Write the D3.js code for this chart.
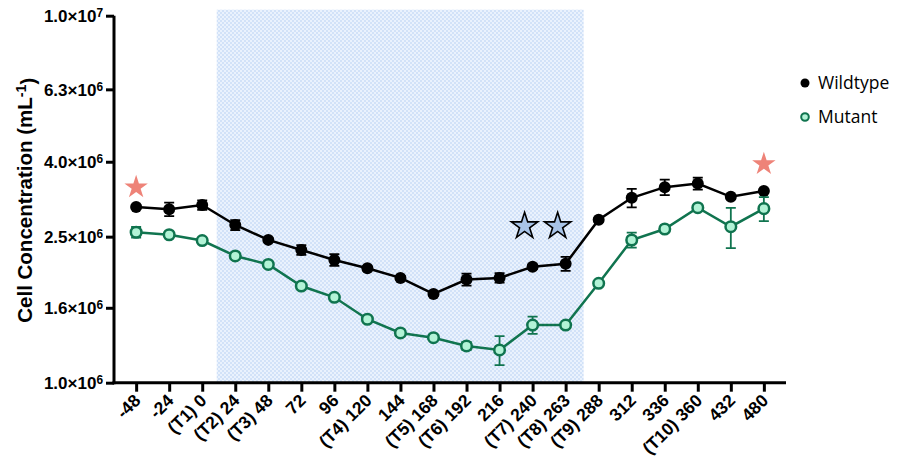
<!DOCTYPE html>
<html>
<head>
<meta charset="utf-8">
<script src="https://cdn.jsdelivr.net/npm/d3@7"></script>
<style>
  html, body { margin: 0; padding: 0; background: #fff; }
  svg { display: block; }
</style>
</head>
<body>
<svg id="chart" width="897" height="466"></svg>
<script>
// Sampling times (h) with treatment labels
const categories = ["-48", "-24", "(T1) 0", "(T2) 24", "(T3) 48", "72", "96", "(T4) 120", "144",
  "(T5) 168", "(T6) 192", "216", "(T7) 240", "(T8) 263", "(T9) 288", "312", "336", "(T10) 360", "432", "480"];

// Mean cell concentration (x10^6 per mL) and error (x10^6 per mL)
const wildtype = [3.01, 2.97, 3.05, 2.69, 2.45, 2.30, 2.16, 2.05, 1.93, 1.745,
  1.91, 1.93, 2.07, 2.11, 2.78, 3.19, 3.41, 3.49, 3.21, 3.33];
const wildtypeErr = [0.04, 0.125, 0.09, 0.084, 0.03, 0.07, 0.08, 0.026, 0.024, 0.022,
  0.072, 0.057, 0.032, 0.093, 0.035, 0.186, 0.165, 0.13, 0.04, 0.04];

const mutant = [2.57, 2.53, 2.44, 2.215, 2.10, 1.834, 1.709, 1.489, 1.366, 1.326,
  1.259, 1.228, 1.436, 1.436, 1.866, 2.448, 2.623, 2.998, 2.661, 2.98];
const mutantErr = [0.086, 0.03, 0.03, 0.028, 0.02, 0.02, 0.02, 0.02, 0.02, 0.02,
  0.032, 0.112, 0.078, 0.018, 0.023, 0.115, 0.033, 0.038, 0.334, 0.224];

const yTicks = [1.0e6, 1.6e6, 2.5e6, 4.0e6, 6.3e6, 1.0e7];

// Treatment window and significance markers
const shadeFrom = "(T1) 0", shadeTo = "(T9) 288";
const redStars = [{ cat: "-48", value: 3.41 }, { cat: "480", value: 3.94 }];
const blueStars = [{ cat: "(T7) 240", value: 2.67 }, { cat: "(T8) 263", value: 2.67 }];

const svg = d3.select("#chart");
const FONT = "Arial, Helvetica, 'Liberation Sans', sans-serif";

const plotLeft = 114, plotRight = 786, plotTop = 15.7, plotBottom = 382.7;

const x = d3.scalePoint().domain(categories).range([plotLeft, plotRight]).padding(0.67);
const y = d3.scaleLog().domain([1e6, 1e7]).range([plotBottom, plotTop]);
const step = x.step();

// Checkered light-blue fill for the treatment window
const defs = svg.append("defs");
const pat = defs.append("pattern").attr("id", "checks")
  .attr("width", 4).attr("height", 4).attr("patternUnits", "userSpaceOnUse");
pat.append("rect").attr("width", 4).attr("height", 4).attr("fill", "#eaf2fd");
pat.append("rect").attr("width", 2).attr("height", 2).attr("fill", "#d2e2f8");
pat.append("rect").attr("x", 2).attr("y", 2).attr("width", 2).attr("height", 2).attr("fill", "#d2e2f8");

const x0 = x(shadeFrom) + step / 2 - 2, x1 = x(shadeTo) - step / 2 + 1.5;
svg.append("rect")
  .attr("x", x0).attr("y", plotTop - 6)
  .attr("width", x1 - x0).attr("height", plotBottom - plotTop + 6)
  .attr("fill", "url(#checks)");

// Superscript helper for "a×10^b" style labels
function sciLabel(sel, v) {
  const exp = Math.floor(Math.log10(v) + 1e-9);
  const mant = v / Math.pow(10, exp);
  sel.text(null);
  sel.append("tspan").text(mant.toFixed(1) + "\u00d710");
  sel.append("tspan").attr("dy", "-0.45em").attr("font-size", "0.7em").text(exp);
}

// Y axis
const yAxis = svg.append("g").attr("transform", `translate(${plotLeft},0)`)
  .call(d3.axisLeft(y).tickValues(yTicks).tickSize(8).tickSizeOuter(0).tickPadding(3));
yAxis.select(".domain").attr("stroke", "#000").attr("stroke-width", 3)
  .attr("d", `M0,${plotTop}V${plotBottom + 1.5}`);
yAxis.selectAll(".tick line").attr("stroke", "#000").attr("stroke-width", 3);
yAxis.selectAll(".tick text")
  .attr("font-family", FONT).attr("font-weight", "bold").attr("font-size", 17)
  .attr("fill", "#000").attr("dy", "0.36em")
  .each(function (d) { sciLabel(d3.select(this), d); });

// X axis
const xAxis = svg.append("g").attr("transform", `translate(0,${plotBottom})`)
  .call(d3.axisBottom(x).tickSize(9).tickSizeOuter(0));
xAxis.select(".domain").attr("stroke", "#000").attr("stroke-width", 3)
  .attr("d", `M${plotLeft - 1.5},0H${plotRight}`);
xAxis.selectAll(".tick line").attr("stroke", "#000").attr("stroke-width", 3);
xAxis.selectAll(".tick text")
  .attr("font-family", FONT).attr("font-weight", "bold").attr("font-size", 17.5)
  .attr("fill", "#000")
  .attr("text-anchor", "end")
  .attr("x", 0).attr("y", 0).attr("dy", 0)
  .attr("transform", "translate(5,19) rotate(-45)");

// Y axis title
const title = svg.append("text")
  .attr("transform", `translate(32,${(plotTop + plotBottom) / 2 + 1}) rotate(-90)`)
  .attr("text-anchor", "middle")
  .attr("font-family", FONT).attr("font-weight", "bold").attr("font-size", 20.5)
  .attr("fill", "#000");
title.append("tspan").text("Cell Concentration (mL");
title.append("tspan").attr("dy", "-0.45em").attr("font-size", "0.7em").text("-1");
title.append("tspan").attr("dy", "0.45em").text(")");

// Series
const series = [
  { name: "Wildtype", values: wildtype, err: wildtypeErr, line: "#000", fill: "#000", stroke: "#000" },
  { name: "Mutant", values: mutant, err: mutantErr, line: "#10744f", fill: "#b2f3d6", stroke: "#10744f" }
];

const line = d3.line().x((d, i) => x(categories[i])).y(d => y(d * 1e6));

series.forEach(s => {
  const g = svg.append("g");
  // error bars
  s.values.forEach((v, i) => {
    const cx = x(categories[i]);
    const lo = y((v - s.err[i]) * 1e6), hi = y((v + s.err[i]) * 1e6);
    g.append("path")
      .attr("d", `M${cx},${lo}V${hi}M${cx - 5},${lo}H${cx + 5}M${cx - 5},${hi}H${cx + 5}`)
      .attr("stroke", s.line).attr("stroke-width", 1.8).attr("fill", "none");
  });
  g.append("path").datum(s.values)
    .attr("d", line).attr("fill", "none")
    .attr("stroke", s.line).attr("stroke-width", 2.5);
  g.selectAll("circle").data(s.values).join("circle")
    .attr("cx", (d, i) => x(categories[i])).attr("cy", d => y(d * 1e6))
    .attr("r", s.name === "Wildtype" ? 6 : 5.3)
    .attr("fill", s.fill).attr("stroke", s.stroke)
    .attr("stroke-width", s.name === "Wildtype" ? 0 : 2.5);
});

// Significance stars
const star = d3.symbol().type(d3.symbolStar);
svg.selectAll(".redstar").data(redStars).join("path")
  .attr("class", "redstar")
  .attr("d", star.size(170)())
  .attr("transform", d => `translate(${x(d.cat)},${y(d.value * 1e6)})`)
  .attr("fill", "#ee8378");
svg.selectAll(".bluestar").data(blueStars).join("path")
  .attr("class", "bluestar")
  .attr("d", star.size(215)())
  .attr("transform", d => `translate(${x(d.cat) - 8},${y(d.value * 1e6)})`)
  .attr("fill", "#a8c4e8").attr("stroke", "#000").attr("stroke-width", 1.6);

// Legend
const legend = svg.append("g").attr("transform", "translate(805,83)");
series.forEach((s, i) => {
  const row = legend.append("g").attr("transform", `translate(0,${i * 34})`);
  row.append("circle").attr("r", s.name === "Wildtype" ? 4.5 : 3.8)
    .attr("fill", s.fill).attr("stroke", s.stroke)
    .attr("stroke-width", s.name === "Wildtype" ? 0 : 2);
  row.append("text").attr("x", 13).attr("dy", "0.35em")
    .attr("font-family", "'Open Sans', 'Noto Sans', sans-serif").attr("font-size", 17.5)
    .attr("fill", "#000").text(s.name);
});
</script>
</body>
</html>
